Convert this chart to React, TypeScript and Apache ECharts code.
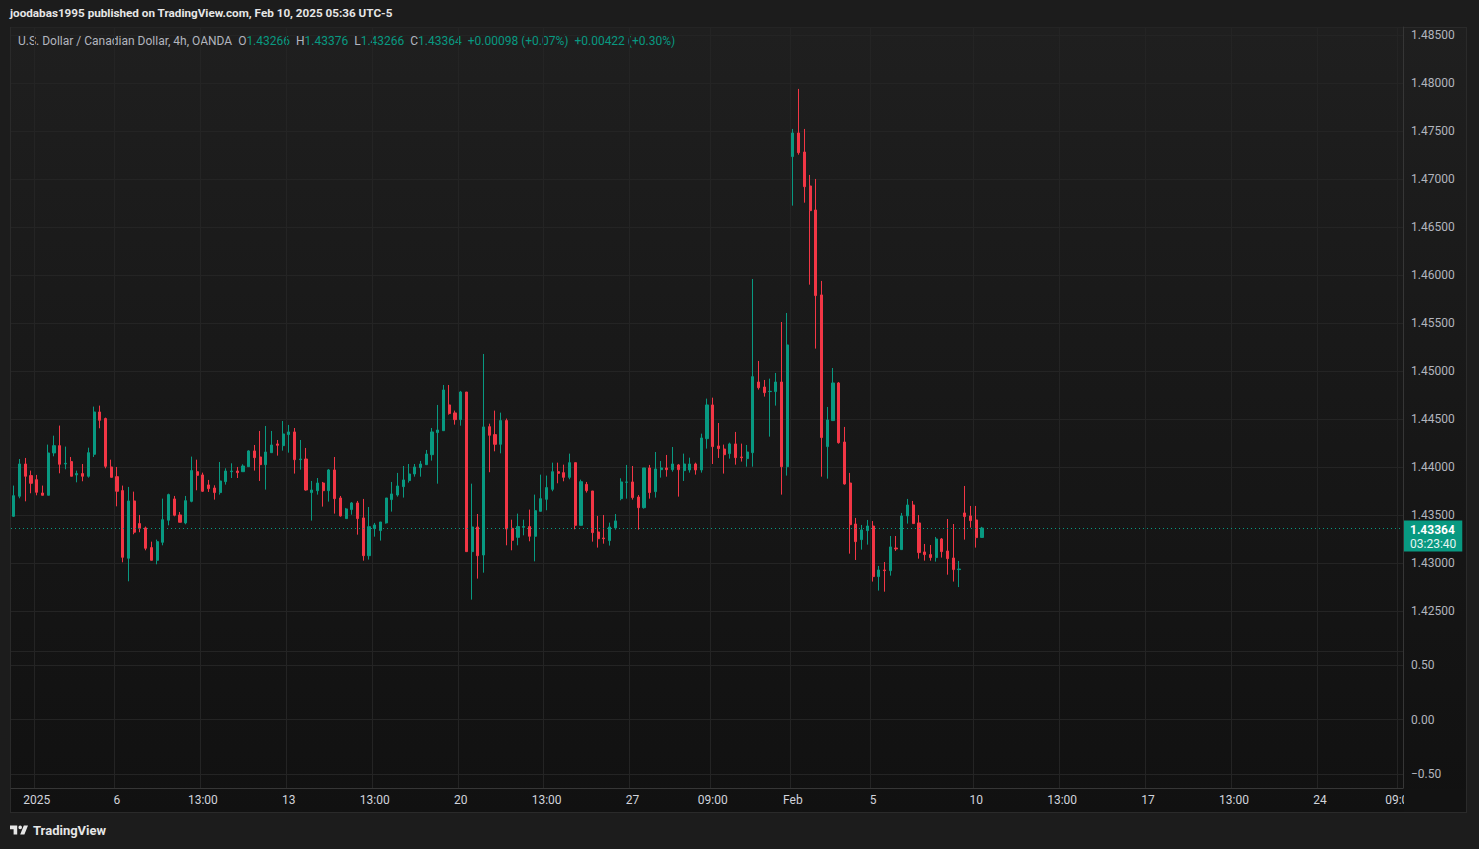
import React, { useEffect, useRef } from "react";
import * as echarts from "echarts";

// ---- data (USD/CAD, 4h, OANDA) ----
const opens = [
  1.43486, 1.43695, 1.44031, 1.4391, 1.43868, 1.43729, 1.43705, 1.44146, 1.44222, 1.44031,
  1.44056, 1.43917, 1.43931, 1.43903, 1.44132, 1.44573, 1.44504, 1.44, 1.43899, 1.43754,
  1.43049, 1.43646, 1.4341, 1.43365, 1.4316, 1.43028, 1.43215, 1.43445, 1.43667, 1.435,
  1.43417, 1.43642, 1.43951, 1.43917, 1.43813, 1.43781, 1.43733, 1.43847, 1.43951, 1.43958,
  1.43951, 1.44003, 1.44167, 1.44104, 1.44024, 1.44149, 1.4424, 1.44222, 1.44337, 1.44365,
  1.44076, 1.44083, 1.43733, 1.43753, 1.43833, 1.43753, 1.43969, 1.43677, 1.43462, 1.43556,
  1.43625, 1.43469, 1.43076, 1.43358, 1.43337, 1.43417, 1.4366, 1.43708, 1.43795, 1.43858,
  1.43927, 1.43993, 1.44024, 1.44128, 1.44358, 1.44378, 1.44646, 1.44563, 1.44493, 1.44781,
  1.43118, 1.43375, 1.43083, 1.4442, 1.44337, 1.44236, 1.44483, 1.43361, 1.43267, 1.43372,
  1.43379, 1.43278, 1.43538, 1.43663, 1.43767, 1.43951, 1.43941, 1.43892, 1.44045, 1.43392,
  1.43819, 1.4375, 1.43323, 1.4326, 1.43233, 1.43365, 1.4367, 1.4384, 1.43844, 1.43687,
  1.43576, 1.4399, 1.43743, 1.43972, 1.4399, 1.43972, 1.44021, 1.43962, 1.43969, 1.44031,
  1.43969, 1.44295, 1.44646, 1.44219, 1.44187, 1.44139, 1.4424, 1.44104, 1.44087, 1.44149,
  1.44885, 1.44833, 1.44785, 1.44785, 1.44885, 1.44003, 1.47233, 1.47479, 1.47281, 1.46927,
  1.46677, 1.45792, 1.44212, 1.44483, 1.44875, 1.4426, 1.43833, 1.43406, 1.43243, 1.43337,
  1.43385, 1.42858, 1.42927, 1.4292, 1.43156, 1.43139, 1.4349, 1.43604, 1.43417, 1.43115,
  1.43087, 1.43056, 1.4325, 1.43125, 1.43052, 1.42931, 1.43521, 1.4349, 1.43448, 1.43266,
];
const closes = [
  1.43701, 1.44031, 1.43903, 1.4383, 1.43736, 1.43705, 1.44146, 1.44222, 1.44028, 1.44038,
  1.43903, 1.43931, 1.43903, 1.44149, 1.44573, 1.44486, 1.44007, 1.43892, 1.43747, 1.43059,
  1.43646, 1.4332, 1.43361, 1.43153, 1.43028, 1.43222, 1.43451, 1.43712, 1.43497, 1.43424,
  1.43649, 1.43962, 1.43913, 1.43747, 1.43774, 1.43733, 1.43854, 1.43958, 1.43958, 1.43941,
  1.4401, 1.44167, 1.44097, 1.44024, 1.44156, 1.44229, 1.44226, 1.44344, 1.44365, 1.44076,
  1.44083, 1.4376, 1.4376, 1.43833, 1.43753, 1.43969, 1.4367, 1.4349, 1.43563, 1.43625,
  1.43462, 1.43076, 1.43378, 1.43396, 1.43427, 1.43677, 1.43719, 1.43802, 1.43865, 1.43927,
  1.44, 1.44031, 1.44135, 1.44365, 1.44385, 1.44802, 1.44556, 1.44493, 1.44781, 1.43118,
  1.43375, 1.43076, 1.44417, 1.4433, 1.44236, 1.44483, 1.43354, 1.43236, 1.43379, 1.43379,
  1.43278, 1.43545, 1.4367, 1.43785, 1.43951, 1.43934, 1.43892, 1.44045, 1.43392, 1.43847,
  1.43753, 1.43316, 1.43253, 1.43253, 1.43375, 1.43438, 1.43844, 1.43844, 1.43681, 1.43576,
  1.4399, 1.43733, 1.43979, 1.4399, 1.43972, 1.44031, 1.43972, 1.44031, 1.44031, 1.43969,
  1.44302, 1.44646, 1.44212, 1.44191, 1.44128, 1.4424, 1.44097, 1.44097, 1.44156, 1.44941,
  1.44826, 1.44774, 1.44788, 1.44885, 1.44003, 1.45271, 1.47479, 1.47274, 1.4692, 1.4667,
  1.45785, 1.44306, 1.4449, 1.44875, 1.44253, 1.43823, 1.43399, 1.43222, 1.43344, 1.43385,
  1.42858, 1.42927, 1.4292, 1.43167, 1.43146, 1.4349, 1.43604, 1.4341, 1.43108, 1.43087,
  1.43056, 1.4325, 1.43118, 1.43045, 1.42931, 1.42937, 1.43483, 1.43441, 1.43264, 1.43364,
];
const lows = [
  1.43479, 1.43674, 1.43642, 1.43726, 1.43705, 1.43705, 1.43705, 1.44111, 1.43934, 1.43976,
  1.43903, 1.4384, 1.43851, 1.43889, 1.44104, 1.44403, 1.43986, 1.43892, 1.4359, 1.43007,
  1.42809, 1.43299, 1.4332, 1.43132, 1.43028, 1.42986, 1.43184, 1.43392, 1.43486, 1.43424,
  1.43403, 1.43632, 1.43757, 1.4374, 1.4374, 1.4366, 1.43712, 1.43816, 1.43885, 1.43885,
  1.43951, 1.44003, 1.43962, 1.43854, 1.43764, 1.44149, 1.44118, 1.4417, 1.44149, 1.43931,
  1.43972, 1.43753, 1.43441, 1.43712, 1.43587, 1.43639, 1.43514, 1.43483, 1.43462, 1.43503,
  1.43295, 1.43024, 1.43035, 1.43274, 1.43233, 1.4341, 1.43535, 1.43691, 1.43681, 1.43837,
  1.43899, 1.43899, 1.44024, 1.44066, 1.43826, 1.44378, 1.44545, 1.44441, 1.4443, 1.43118,
  1.42618, 1.42837, 1.42899, 1.43945, 1.44163, 1.44142, 1.43184, 1.43132, 1.43184, 1.43288,
  1.43226, 1.43017, 1.43538, 1.43549, 1.43747, 1.4383, 1.43851, 1.43872, 1.43351, 1.43392,
  1.43733, 1.43222, 1.4316, 1.43201, 1.43181, 1.43347, 1.43653, 1.4367, 1.4366, 1.43347,
  1.43566, 1.4367, 1.43681, 1.43889, 1.43899, 1.43951, 1.43691, 1.43854, 1.43941, 1.4392,
  1.43941, 1.44191, 1.44031, 1.44094, 1.43931, 1.44087, 1.44024, 1.44056, 1.44003, 1.44003,
  1.44806, 1.44733, 1.44316, 1.44639, 1.43712, 1.4391, 1.46722, 1.47253, 1.46753, 1.45899,
  1.45233, 1.43899, 1.43878, 1.44483, 1.44243, 1.43816, 1.43097, 1.43031, 1.43139, 1.43191,
  1.42806, 1.42712, 1.42701, 1.42868, 1.43125, 1.43139, 1.4341, 1.4341, 1.43045, 1.43024,
  1.43024, 1.43014, 1.43056, 1.42878, 1.42806, 1.42749, 1.43243, 1.43368, 1.4316, 1.43266,
];
const highs = [
  1.43806, 1.44083, 1.44094, 1.43962, 1.43917, 1.43806, 1.44233, 1.44326, 1.44431, 1.44212,
  1.44104, 1.43962, 1.44031, 1.44201, 1.44629, 1.44639, 1.44514, 1.44076, 1.44, 1.43806,
  1.43792, 1.43743, 1.435, 1.43379, 1.43222, 1.43243, 1.4367, 1.43722, 1.43698, 1.43531,
  1.43698, 1.44108, 1.44076, 1.43941, 1.43865, 1.43809, 1.44052, 1.43986, 1.44038, 1.44,
  1.44028, 1.44174, 1.44229, 1.44375, 1.44427, 1.44375, 1.44281, 1.44479, 1.44438, 1.44406,
  1.44281, 1.44198, 1.43854, 1.43885, 1.43844, 1.43979, 1.44104, 1.43698, 1.43573, 1.43635,
  1.43646, 1.43667, 1.43583, 1.43417, 1.43427, 1.43677, 1.43844, 1.43938, 1.4401, 1.44031,
  1.44031, 1.44063, 1.44177, 1.44406, 1.44646, 1.44854, 1.44854, 1.44587, 1.44792, 1.44781,
  1.43826, 1.4351, 1.45177, 1.44451, 1.44587, 1.44566, 1.44504, 1.43451, 1.43514, 1.43451,
  1.43556, 1.43712, 1.4392, 1.4391, 1.44045, 1.44045, 1.44024, 1.44139, 1.44045, 1.43868,
  1.43844, 1.4375, 1.4349, 1.435, 1.4342, 1.4351, 1.43882, 1.44021, 1.4401, 1.43708,
  1.4399, 1.44021, 1.44156, 1.44062, 1.44125, 1.44208, 1.44031, 1.44139, 1.44097, 1.44045,
  1.44347, 1.44712, 1.44722, 1.44458, 1.44233, 1.44253, 1.44365, 1.44243, 1.44229, 1.45958,
  1.45104, 1.44906, 1.4492, 1.44979, 1.4551, 1.45604, 1.47521, 1.47938, 1.47521, 1.47042,
  1.47, 1.45938, 1.44625, 1.45031, 1.44885, 1.44417, 1.43938, 1.43469, 1.43396, 1.43448,
  1.43437, 1.42969, 1.4301, 1.43281, 1.43281, 1.43521, 1.43667, 1.43646, 1.435, 1.43198,
  1.43187, 1.43271, 1.4326, 1.43458, 1.43406, 1.43021, 1.43802, 1.43594, 1.43594, 1.43376,
];

// time-axis slots (bars + empty future space) and the tick labels
const slotCount = 243;
const tickIndex = [4, 18, 33, 48, 63, 78, 93, 108, 122, 136, 150, 168, 183, 198, 213, 228, 242];
const tickText = ["2025", "6", "13:00", "13", "13:00", "20", "13:00", "27", "09:00", "Feb", "5", "10", "13:00", "17", "13:00", "24", "09:00"];

const priceMin = 1.42083;
const priceMax = 1.48583;
const lowerPaneMin = -0.63;
const lowerPaneMax = 0.63;

const lastPrice = 1.43364;
const countdown = "03:23:40";

const titleText = "joodabas1995 published on TradingView.com, Feb 10, 2025 05:36 UTC-5";
const symbolText = "U.S. Dollar / Canadian Dollar, 4h, OANDA";
const ohlcLabels = ["O", "H", "L", "C"];
const ohlcValues = ["1.43266", "1.43376", "1.43266", "1.43364"];
const changeText = "+0.00098 (+0.07%)";
const changeText2 = "+0.00422 (+0.30%)";

const UP = "#089981";
const DOWN = "#f23645";
const TEXT = "#b2b5be";
const GRID = "#242424";
const FONT = "Roboto, 'Liberation Sans', sans-serif";

const LOGO_D =
  "M14 6H2v6h6v9h6V6Zm12 15h-7l6-15h7l-6 15Zm-7-9a3 3 0 1 0 0-6 3 3 0 0 0 0 6Z";
let logoRegistered = false;

export default function App() {
  const ref = useRef<HTMLDivElement | null>(null);

  useEffect(() => {
    if (!ref.current) return;
    if (!logoRegistered) {
      echarts.graphic.registerShape("logo", echarts.graphic.extendPath(LOGO_D, {}) as any);
      logoRegistered = true;
    }
    const chart = echarts.init(ref.current, null, { renderer: "svg" });

    const slots = Array.from({ length: slotCount }, (_, i) => "s" + i);
    const labelAt = new Map<number, string>();
    tickIndex.forEach((k, j) => labelAt.set(k, tickText[j]));
    const candles = opens.map((o, i) => [o, closes[i], lows[i], highs[i]]);

    const legendRich: any = {
      t: { fill: TEXT, fontSize: 12, fontFamily: FONT },
      k: { fill: TEXT, fontSize: 12, fontFamily: FONT, padding: [0, 0, 0, 6] },
      v: { fill: UP, fontSize: 12, fontFamily: FONT },
      c: { fill: UP, fontSize: 12, fontFamily: FONT, padding: [0, 0, 0, 6] },
    };
    let legendStr = `{t|${symbolText}}`;
    ohlcLabels.forEach((l, i) => {
      legendStr += `{k|${l}}{v|${ohlcValues[i]}}`;
    });
    legendStr += `{c|${changeText}}{c|${changeText2}}`;

    const option: any = {
      animation: false,
      backgroundColor: "transparent",
      textStyle: { fontFamily: FONT },
      grid: [
        { left: 11, top: 27, width: 1392, height: 624, containLabel: false },
        { left: 11, top: 651, width: 1392, height: 137, containLabel: false },
      ],
      xAxis: [
        {
          type: "category",
          gridIndex: 0,
          data: slots,
          boundaryGap: true,
          axisLine: { show: false, onZero: false },
          axisTick: { show: false },
          axisLabel: { show: false, interval: (i: number) => labelAt.has(i) },
          splitLine: { show: true, interval: (i: number) => labelAt.has(i), lineStyle: { color: GRID, width: 1 } },
        },
        {
          type: "category",
          gridIndex: 1,
          data: slots,
          boundaryGap: true,
          axisLine: { show: true, onZero: false, lineStyle: { color: "#363636" } },
          axisTick: { show: false },
          axisLabel: {
            show: true,
            interval: (i: number) => labelAt.has(i),
            formatter: (_v: string, i: number) => labelAt.get(i) ?? "",
            color: "#d1d4dc",
            fontSize: 12,
            fontFamily: FONT,
            margin: 6,
          },
          splitLine: { show: true, interval: (i: number) => labelAt.has(i), lineStyle: { color: GRID, width: 1 } },
        },
      ],
      yAxis: [
        {
          type: "value",
          gridIndex: 0,
          position: "right",
          min: priceMin,
          max: priceMax,
          splitNumber: 13,
          axisLine: { show: true, lineStyle: { color: "#363636" } },
          axisTick: { show: false },
          axisLabel: {
            showMinLabel: false,
            showMaxLabel: false,
            color: TEXT,
            fontSize: 12,
            fontFamily: FONT,
            margin: 8,
            formatter: (v: number) => {
              const r = Math.round(v * 200) / 200;
              return Math.abs(r - v) < 1e-7 ? v.toFixed(5) : "";
            },
          },
          splitLine: { show: true, lineStyle: { color: GRID, width: 1 } },
        },
        {
          type: "value",
          gridIndex: 1,
          position: "right",
          min: lowerPaneMin,
          max: lowerPaneMax,
          splitNumber: 3,
          axisLine: { show: true, lineStyle: { color: "#363636" } },
          axisTick: { show: false },
          axisLabel: {
            showMinLabel: false,
            showMaxLabel: false,
            color: TEXT,
            fontSize: 12,
            fontFamily: FONT,
            margin: 8,
            formatter: (v: number) => (v < 0 ? "\u2212" + Math.abs(v).toFixed(2) : v.toFixed(2)),
          },
          splitLine: { show: true, lineStyle: { color: GRID, width: 1 } },
        },
      ],
      series: [
        {
          type: "candlestick",
          xAxisIndex: 0,
          yAxisIndex: 0,
          data: candles,
          barWidth: 2.6,
          itemStyle: {
            color: UP,
            color0: DOWN,
            borderColor: UP,
            borderColor0: DOWN,
            borderWidth: 1,
          },
          markLine: {
            silent: true,
            precision: 5,
            symbol: ["none", "none"],
            data: [{ yAxis: lastPrice }],
            lineStyle: { color: UP, type: [1, 3], width: 1 },
            label: {
              show: true,
              position: "end",
              distance: 1,
              offset: [0, 8],
              backgroundColor: UP,
              padding: [2, 6, 1, 6],
              formatter: `{a|${lastPrice.toFixed(5)}}\n{b|${countdown}}`,
              rich: {
                a: { color: "#ffffff", fontSize: 12, fontWeight: "bold", fontFamily: FONT, lineHeight: 14 },
                b: { color: "#e6f4f1", fontSize: 12, fontFamily: FONT, lineHeight: 14 },
              },
            },
          },
        },
      ],
      graphic: [
        {
          type: "text",
          left: 10,
          top: 7,
          style: { text: titleText, fill: "#e6e6e6", fontSize: 11.7, fontWeight: "bold", fontFamily: FONT },
        },
        {
          type: "text",
          left: 18,
          top: 35,
          style: { text: legendStr, rich: legendRich, fill: TEXT, fontSize: 12, fontFamily: FONT },
        },
        {
          type: "rect",
          shape: { x: 1404, y: 789, width: 62, height: 23 },
          style: { fill: "#121212" },
          z: 100,
        },
        {
          type: "logo",
          x: 8.8,
          y: 822,
          scaleX: 0.6,
          scaleY: 0.6,
          style: { fill: "#e6e6e6" },
        },
        {
          type: "text",
          left: 33,
          top: 824,
          style: { text: "TradingView", fill: "#e6e6e6", fontSize: 13, fontWeight: "bold", fontFamily: FONT },
        },
      ],
    };

    chart.setOption(option);
    return () => chart.dispose();
  }, []);

  return (
    <div style={{ position: "fixed", left: 0, top: 0, width: 1479, height: 849, background: "#1c1c1c" }}>
      <div
        style={{
          position: "absolute",
          left: 10,
          top: 27,
          width: 1457,
          height: 786,
          background: "linear-gradient(to bottom, #1f1f1f 0%, #161616 60%, #111111 100%)",
          border: "1px solid #2a2a2a",
          boxSizing: "border-box",
        }}
      />
      <div ref={ref} style={{ position: "absolute", left: 0, top: 0, width: 1479, height: 849 }} />
    </div>
  );
}
